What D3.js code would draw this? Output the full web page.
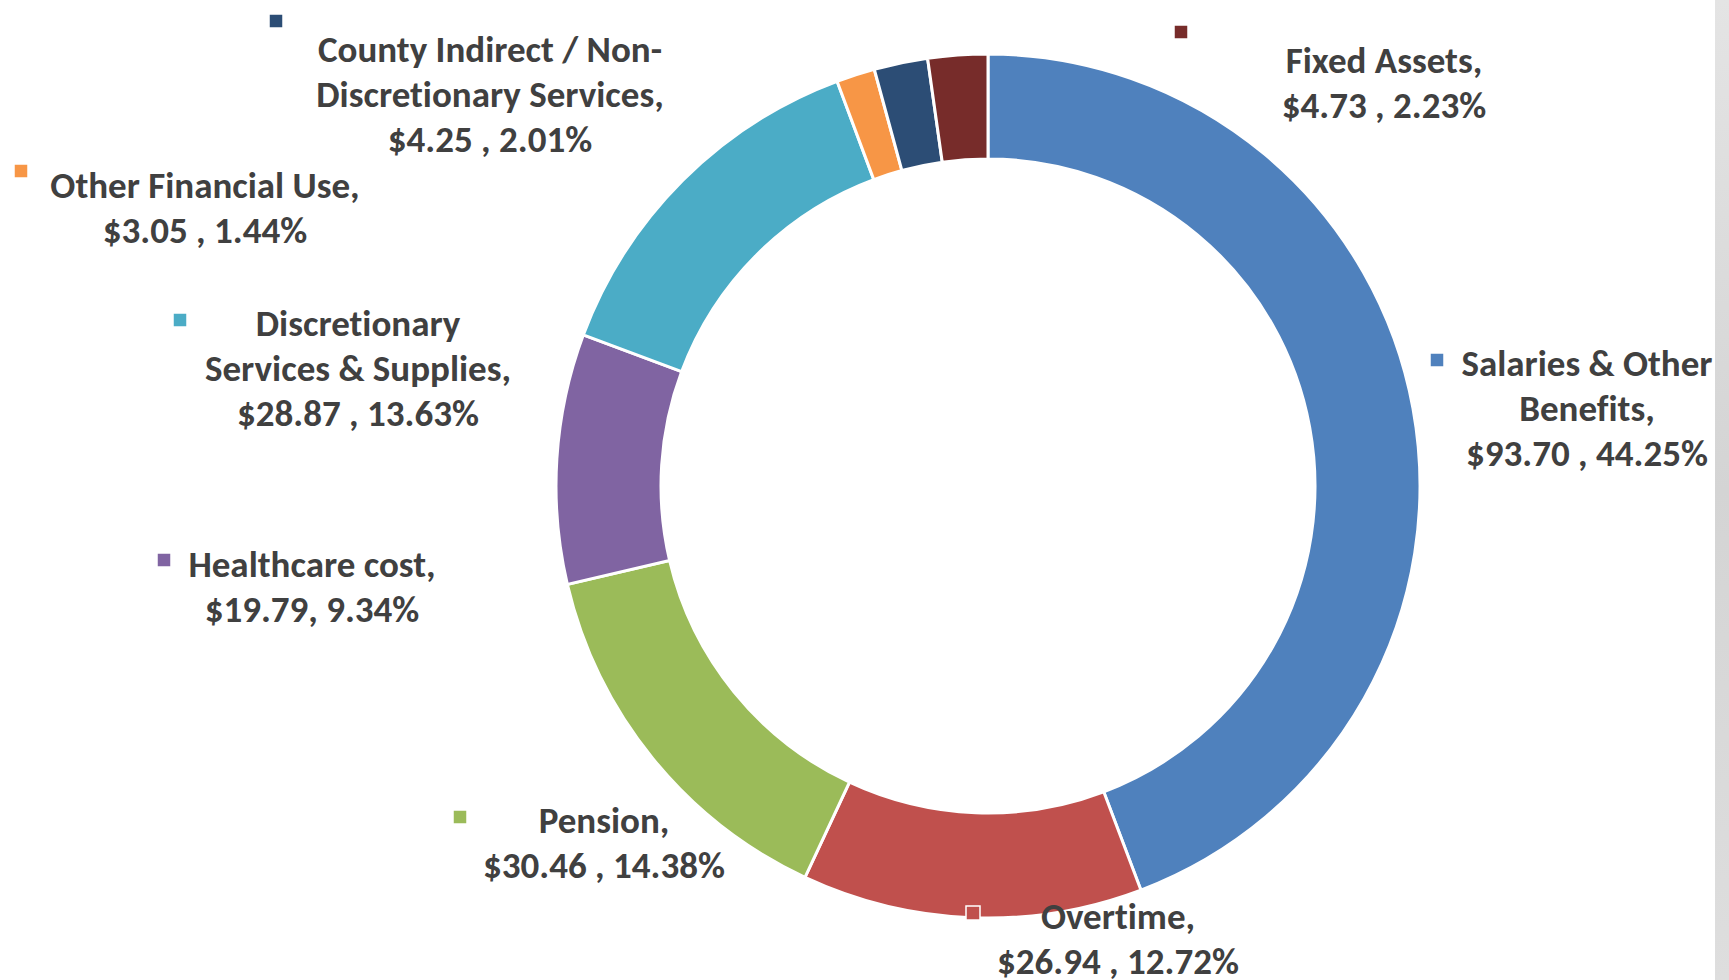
<!DOCTYPE html>
<html>
<head>
<meta charset="utf-8">
<script src="https://cdn.jsdelivr.net/npm/d3@7"></script>
<style>
  html, body { margin: 0; padding: 0; background: #fff; overflow: hidden; }
  text { font-family: "Carlito", "Liberation Sans Narrow", "Open Sans", sans-serif; font-weight: bold; fill: #404040;
         font-variant-ligatures: none; }
</style>
</head>
<body>
<script>
// data, clockwise from 12 o'clock
var categories = ["Salaries & Other Benefits", "Overtime", "Pension", "Healthcare cost",
                  "Discretionary Services & Supplies", "Other Financial Use",
                  "County Indirect / Non-Discretionary Services", "Fixed Assets"];
var amounts  = [93.70, 26.94, 30.46, 19.79, 28.87, 3.05, 4.25, 4.73];
var percents = [44.25, 12.72, 14.38, 9.34, 13.63, 1.44, 2.01, 2.23];
// how the category name is broken over lines in the labels
var nameLines = [
    ["Salaries & Other", "Benefits,"],
    ["Overtime,"],
    ["Pension,"],
    ["Healthcare cost,"],
    ["Discretionary", "Services & Supplies,"],
    ["Other Financial Use,"],
    ["County Indirect / Non-", "Discretionary Services,"],
    ["Fixed Assets,"]
];
var separators = [" , ", " , ", " , ", ", ", " , ", " , ", " , ", " , "];
var colors = ["#4F81BD", "#C0504D", "#9BBB59", "#8064A2", "#4BACC6", "#F79646", "#2C4D75", "#772C2A"];

// label placement (marker centre, text centre x, first line centre y)
var labelLayout = [
    {mx: 1437, my: 360, tx: 1587, ty: 364},
    {mx: 973,  my: 913, tx: 1118, ty: 917},
    {mx: 460,  my: 817, tx: 604,  ty: 821},
    {mx: 164,  my: 560, tx: 312,  ty: 565},
    {mx: 180,  my: 320, tx: 358,  ty: 324},
    {mx: 21,   my: 171, tx: 205,  ty: 186},
    {mx: 276,  my: 21,  tx: 490,  ty: 50},
    {mx: 1181, my: 32,  tx: 1384, ty: 61}
];

var width = 1729, height = 980;
var cx = 988, cy = 486, outerR = 432, innerR = 327;
var fontSize = 37, lineH = 45, markerSize = 14;

var svg = d3.select("body").append("svg")
    .attr("width", width)
    .attr("height", height);

// grey strip of the slide background at the right edge
var grad = svg.append("defs").append("linearGradient")
    .attr("id", "edge").attr("x1", 0).attr("y1", 0).attr("x2", 0).attr("y2", 1);
grad.append("stop").attr("offset", "0%").attr("stop-color", "#e4e4e4");
grad.append("stop").attr("offset", "50%").attr("stop-color", "#d4d4d4");
grad.append("stop").attr("offset", "100%").attr("stop-color", "#dedede");
svg.append("rect")
    .attr("x", 1715).attr("y", 0)
    .attr("width", width - 1715).attr("height", height)
    .attr("fill", "url(#edge)");

var data = categories.map(function(c, i) {
    return {name: c, amount: amounts[i], pct: percents[i], i: i};
});

var pie = d3.pie()
    .value(function(d) { return d.amount; })
    .sort(null);

var arc = d3.arc()
    .innerRadius(innerR)
    .outerRadius(outerR);

var g = svg.append("g")
    .attr("transform", "translate(" + cx + "," + cy + ")");

g.selectAll("path.slice")
    .data(pie(data))
    .enter()
    .append("path")
    .attr("class", "slice")
    .attr("d", arc)
    .attr("fill", function(d) { return colors[d.data.i]; })
    .attr("stroke", "#fff")
    .attr("stroke-width", 3)
    .attr("stroke-linejoin", "miter");

// labels
var fmt = d3.format(".2f");
var labels = svg.selectAll("g.label")
    .data(data)
    .enter()
    .append("g")
    .attr("class", "label");

labels.append("rect")
    .attr("x", function(d) { return labelLayout[d.i].mx - markerSize / 2; })
    .attr("y", function(d) { return labelLayout[d.i].my - markerSize / 2; })
    .attr("width", markerSize)
    .attr("height", markerSize)
    .attr("fill", function(d) { return colors[d.i]; })
    .attr("stroke", "#fff")
    .attr("stroke-width", 1.5);

labels.each(function(d) {
    var lines = nameLines[d.i].concat(["$" + fmt(d.amount) + separators[d.i] + fmt(d.pct) + "%"]);
    var lay = labelLayout[d.i];
    var t = d3.select(this).append("text")
        .attr("text-anchor", "middle")
        .style("font-size", fontSize + "px");
    lines.forEach(function(line, k) {
        t.append("tspan")
            .attr("x", lay.tx)
            .attr("y", lay.ty + k * lineH + fontSize * 0.33)
            .text(line);
    });
});
</script>
</body>
</html>
